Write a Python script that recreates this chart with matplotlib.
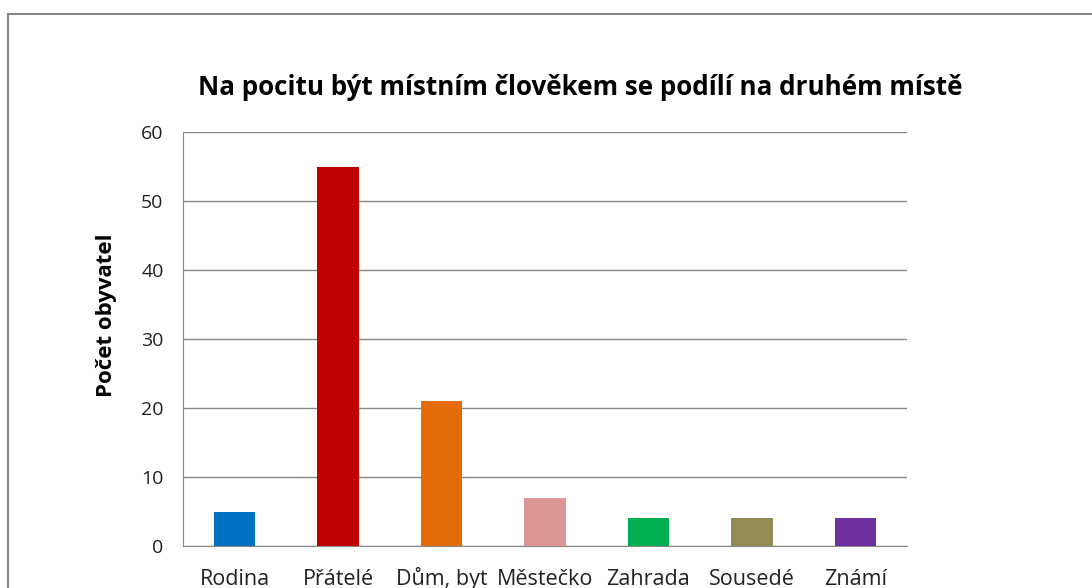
import matplotlib.pyplot as plt
from matplotlib.patches import Rectangle

plt.rcParams['font.family'] = ['Open Sans', 'DejaVu Sans']

# data
categories = ['Rodina', 'Přátelé', 'Dům, byt', 'Městečko', 'Zahrada', 'Sousedé', 'Známí']
values = [5, 55, 21, 7, 4, 4, 4]
colors = ['#0070C0', '#C00000', '#E36C09', '#D99694', '#00B050', '#948A54', '#7030A0']
yticks = [0, 10, 20, 30, 40, 50, 60]

W, H = 1092, 588
fig = plt.figure(figsize=(W / 100, H / 100), dpi=100)

# vnejsi ramecek grafu (orezany vpravo a dole)
fig.patches.append(Rectangle((8 / W, -0.1), 1.2, (H - 14) / H + 0.1,
                             transform=fig.transFigure, fill=False,
                             edgecolor='#888888', linewidth=1.5))

ax = fig.add_axes([183 / W, 1 - 546 / H, (907 - 183) / W, (546 - 132) / H])
x = range(len(categories))
ax.bar(x, values, width=0.4, color=colors, zorder=3)

ax.set_xlim(-0.5, len(categories) - 0.5)
ax.set_ylim(0, 60)
ax.set_yticks(yticks)
ax.set_xticks(list(x))
ax.set_xticklabels(categories, fontsize=15.5, color='#222222', va='baseline')
ax.tick_params(axis='y', labelsize=14, colors='#222222', length=0, pad=14)
ax.tick_params(axis='x', length=0, pad=28)
ax.grid(axis='y', color='#888888', linewidth=1, zorder=0)

for side in ['top', 'right']:
    ax.spines[side].set_visible(False)
for side in ['left', 'bottom']:
    ax.spines[side].set_color('#888888')

ax.set_ylabel('Počet obyvatel', fontsize=16, fontweight='bold')
ax.yaxis.set_label_coords(117 / W, 1 - 315 / H, transform=fig.transFigure)
fig.text(580 / W, 1 - 88 / H, 'Na pocitu být místním člověkem se podílí na druhém místě',
         ha='center', va='center', fontsize=18.7, fontweight='bold')

fig.savefig('out.png', dpi=100)
